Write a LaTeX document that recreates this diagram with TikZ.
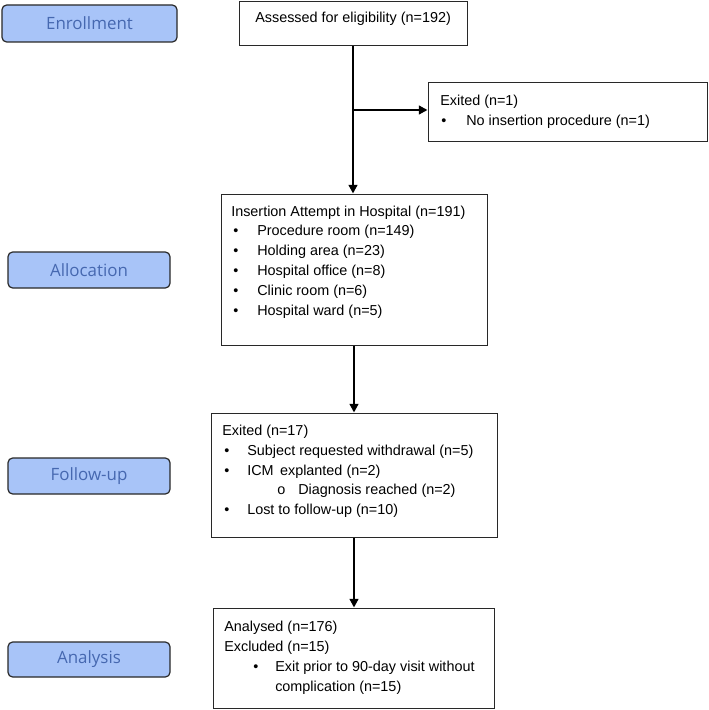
\documentclass[tikz,border=0pt]{standalone}
\usepackage{fontspec}
\setmainfont{Liberation Sans}
\newfontfamily\stagefont{Open Sans}
\usetikzlibrary{arrows.meta}

\definecolor{stageFill}{RGB}{168,196,248}
\definecolor{stageText}{RGB}{70,104,176}
\definecolor{boxLine}{RGB}{40,40,40}

\tikzset{
  stage/.style={draw=boxLine, fill=stageFill, rounded corners=3.5pt, line width=0.9pt,
    text=stageText, font=\stagefont\fontsize{12.7}{14}\selectfont, inner sep=0pt},
  flowbox/.style={draw=boxLine, line width=0.75pt, inner sep=0pt},
  txt/.style={anchor=west, inner sep=0pt, font=\fontsize{10.8}{12}\selectfont},
  flow/.style={line width=1.7pt, -{Triangle[length=6.5pt,width=6.5pt]}},
}

\begin{document}
\begin{tikzpicture}[x=0.75pt,y=0.75pt,yscale=-1,xscale=1]
\path[use as bounding box] (0,0) rectangle (709,710);

%Stage labels
\node[stage, minimum width=131.25pt, minimum height=27.75pt] (enroll) at (89.5,23.5) {Enrollment};
\node[stage, minimum width=121.5pt, minimum height=27pt] (alloc) at (89,270) {Allocation};
\node[stage, minimum width=121.5pt, minimum height=27pt] (follow) at (89,476) {Follow-up};
\node[stage, minimum width=121.5pt, minimum height=26.25pt] (analysis) at (89,659.5) {Analysis};

%Flow boxes
\node[flowbox, minimum width=171pt, minimum height=33pt] (assess) at (353,24) {};
\node[flowbox, minimum width=209.25pt, minimum height=43.5pt] (exitone) at (567.5,112) {};
\node[flowbox, minimum width=199.5pt, minimum height=113.25pt] (insert) at (354,269.5) {};
\node[flowbox, minimum width=214.5pt, minimum height=93pt] (exitfu) at (354,475) {};
\node[flowbox, minimum width=210.75pt, minimum height=75pt] (analysed) at (353.5,658) {};

%Texts: assessed
\node[txt] (assessT) at (255,19) {Assessed for eligibility (n=192)};

%Texts: exited (n=1)
\node[txt] (exitoneT) at (440,102) {Exited (n=1)};
\node[txt] (exitoneB) at (441,122) {\textbullet};
\node[txt] (exitoneI) at (466,122) {No insertion procedure (n=1)};

%Texts: insertion
\node[txt] (insertT) at (231,213) {Insertion Attempt in Hospital (n=191)};
\foreach \yy/\item [count=\k] in {232/Procedure room (n=149), 252/Holding area (n=23),
    272/Hospital office (n=8), 292/Clinic room (n=6), 312/Hospital ward (n=5)} {
  \node[txt] (insertB\k) at (233,\yy) {\textbullet};
  \node[txt] (insertI\k) at (257,\yy) {\item};
}

%Texts: exited (n=17)
\node[txt] (exitfuT) at (222,432) {Exited (n=17)};
\node[txt] (exitfuB1) at (224,452) {\textbullet};
\node[txt] (exitfuI1) at (247,452) {Subject requested withdrawal (n=5)};
\node[txt] (exitfuB2) at (224,472) {\textbullet};
\node[txt] (exitfuI2) at (247,472) {ICM\, explanted (n=2)};
\node[txt] (exitfuB3) at (277,491) {o};
\node[txt] (exitfuI3) at (298,491) {Diagnosis reached (n=2)};
\node[txt] (exitfuB4) at (224,511) {\textbullet};
\node[txt] (exitfuI4) at (247,511) {Lost to follow-up (n=10)};

%Texts: analysed
\node[txt] (analysedT1) at (224,628) {Analysed (n=176)};
\node[txt] (analysedT2) at (224,648) {Excluded (n=15)};
\node[txt] (analysedB) at (253,668) {\textbullet};
\node[txt] (analysedI1) at (275,668) {Exit prior to 90-day visit without};
\node[txt] (analysedI2) at (275,688) {complication (n=15)};

%Connectors
\coordinate (branch) at (353,110);
\draw[flow] (assess.south) -- (assess.south |- insert.north);
\draw[flow] (branch) -- (branch -| exitone.west);
\draw[flow] (insert.south) -- (exitfu.north);
\draw[flow] (exitfu.south) -- (exitfu.south |- analysed.north);

\end{tikzpicture}
\end{document}
